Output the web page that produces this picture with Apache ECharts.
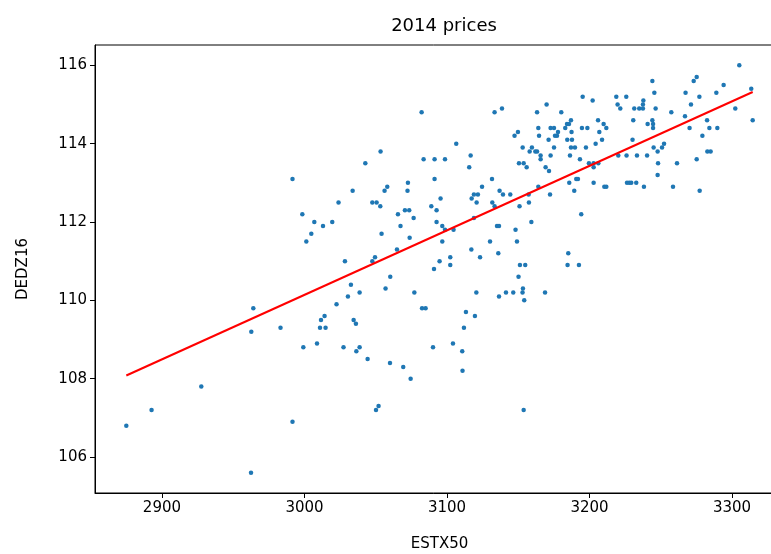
<!DOCTYPE html>
<html>
<head>
<meta charset="utf-8">
<script src="https://cdn.jsdelivr.net/npm/echarts@6/dist/echarts.min.js"></script>
<style>
  html, body { margin: 0; padding: 0; background: #fff; }
  #chart { width: 771px; height: 554px; }
</style>
</head>
<body>
<div id="chart"></div>
<script>
// Daily closes for 2014: ESTX50 index level vs DEDZ16 price
const estx50 = [
  2875.0, 2892.7, 2927.6, 2962.5, 2964.1, 2962.7, 2991.6, 3082.2, 3053.4, 3042.7,
  3083.6, 3091.3, 3091.3, 3033.8, 3056.2, 3058.1, 3072.6, 3072.3, 3098.6, 3106.5,
  3116.6, 3115.6, 3133.4, 3138.6, 3131.6, 3124.6, 3118.9, 3121.7, 3136.9, 3139.3,
  3144.4, 3147.4, 3149.8, 3153.1, 3150.5, 3153.8, 3155.9, 3158.0, 3159.6, 3162.0,
  3163.2, 3165.7, 3165.7, 3163.2, 3169.9, 3164.1, 3164.6, 3172.7, 3175.1, 3177.9,
  3177.2, 3175.8, 3171.3, 3175.1, 3172.7, 3169.2, 3171.6, 3164.1, 3172.3, 3180.2,
  3183.0, 3184.2, 3185.6, 3187.0, 3187.4, 3184.4, 3187.7, 3187.0, 3189.8, 3186.3,
  3193.3, 3194.7, 3198.5, 3195.2, 3202.2, 3197.5, 3204.3, 3206.0, 3206.9, 3208.8,
  3209.9, 3199.6, 3202.9, 3202.9, 3206.2, 3185.8, 3189.3, 3190.7, 3191.9, 3202.9,
  3210.4,
  3211.8, 3211.8, 3218.8, 3225.8, 3219.7, 3221.6, 3220.2, 3226.0, 3230.2, 3230.7,
  3231.4, 3233.3, 3234.9, 3237.5, 3237.5, 3237.8, 3244.1, 3245.5, 3246.4, 3240.8,
  3244.1, 3244.6, 3244.6, 3240.4, 3245.0, 3247.8, 3250.9, 3252.3, 3248.1, 3247.8,
  3226.3, 3227.9, 3229.3, 3232.8, 3238.2, 3258.6, 3277.3, 3257.4, 3261.4, 3267.0,
  3267.4, 3270.2, 3271.2, 3273.1, 3275.2, 3277.1, 3275.2, 3279.2, 3282.5, 3282.7,
  3285.0, 3284.1, 3289.0, 3289.7, 3294.1, 3302.3, 3305.1, 3313.5, 3314.5,
  3023.9, 2998.5, 3006.9, 3013.0, 3019.5, 3004.8, 3001.3, 3047.6, 3050.6, 3053.2,
  3065.6, 3070.5, 3073.5, 3076.6, 3067.4, 3054.1, 3073.8, 3089.0, 3092.7, 3092.7,
  3064.9, 3049.5, 3047.6, 3028.4, 3060.2, 3056.9, 3032.6, 3030.5, 3038.7, 3022.5,
  3077.1, 3082.5, 3085.0, 3090.9, 2983.2, 3011.6, 3014.1, 3010.9, 3014.8, 3034.5,
  3036.1, 3008.8,
  3095.5, 3096.7, 3098.6, 3104.6, 3096.7, 3117.3, 3120.8, 3118.9, 3131.8, 3133.4,
  3135.1, 3136.5, 3130.2, 3117.1, 3123.2, 3136.0, 3102.3, 3094.8, 3102.3, 3148.1,
  3149.1, 3150.9, 3157.3, 3157.5, 3159.2, 3151.2, 3154.9, 3150.2, 3153.3, 3153.0,
  3154.2, 3168.8, 3141.4, 3146.5, 3136.5, 3120.6, 3113.3, 3119.6, 3111.9, 3104.2,
  3194.2, 3185.1, 3184.6, 3192.6,
  2999.2, 3027.4, 3036.4, 3038.7, 3044.3, 3060.0, 3069.3, 3074.5, 3050.2, 3052.0,
  2991.6, 3090.2, 3110.7, 3110.9, 3153.8
];

const dedz16 = [
  106.8, 107.2, 107.8, 105.6, 109.8, 109.2, 113.1, 114.8, 113.8, 113.5,
  113.6, 113.6, 113.1, 112.8, 112.8, 112.9, 113.0, 112.8, 113.6, 114.0,
  113.7, 113.4, 114.8, 114.9, 113.1, 112.9, 112.7, 112.7, 112.8, 112.7,
  112.7, 114.2, 114.3, 113.9, 113.5, 113.5, 113.4, 113.8, 113.9, 113.8,
  113.8, 113.7, 113.6, 114.8, 115.0, 114.4, 114.2, 114.4, 114.4, 114.3,
  114.2, 114.2, 114.1, 113.9, 113.7, 113.4, 113.3, 112.9, 112.7, 114.8,
  114.4, 114.5, 114.5, 114.6, 114.3, 114.1, 114.1, 113.9, 113.9, 113.7,
  113.6, 114.4, 114.4, 115.2, 115.1, 113.9, 114.0, 114.6, 114.3, 114.1,
  114.5, 113.5, 113.5, 113.4, 113.5, 113.0, 112.8, 113.1, 113.1, 113.0,
  112.9,
  114.4, 112.9, 115.2, 115.2, 115.0, 114.9, 113.7, 113.7, 114.1, 114.6,
  114.9, 113.7, 114.9, 114.9, 115.0, 115.1, 115.6, 115.3, 114.9, 114.5,
  114.6, 114.5, 114.4, 113.7, 113.9, 113.8, 113.9, 114.0, 113.5, 113.2,
  113.0, 113.0, 113.0, 113.0, 112.9, 112.9, 112.8, 114.8, 113.5, 114.7,
  115.3, 114.4, 115.0, 115.6, 115.7, 115.2, 113.6, 114.2, 114.6, 113.8,
  113.8, 114.4, 115.3, 114.4, 115.5, 114.9, 116.0, 115.4, 114.6,
  112.5, 112.2, 112.0, 111.9, 112.0, 111.7, 111.5, 112.5, 112.5, 112.4,
  112.2, 112.3, 112.3, 112.1, 111.9, 111.7, 111.6, 112.4, 112.3, 112.0,
  111.3, 111.1, 111.0, 111.0, 110.6, 110.3, 110.4, 110.1, 110.2, 109.9,
  110.2, 109.8, 109.8, 110.8, 109.3, 109.5, 109.6, 109.3, 109.3, 109.5,
  109.4, 108.9,
  112.6, 111.9, 111.8, 111.8, 111.5, 112.6, 112.5, 112.1, 112.5, 112.4,
  111.9, 111.9, 111.5, 111.3, 111.1, 111.2, 111.1, 111.0, 110.9, 111.8,
  111.5, 112.4, 112.7, 112.5, 112.0, 110.9, 110.9, 110.6, 110.3, 110.2,
  110.0, 110.2, 110.2, 110.2, 110.1, 110.2, 109.7, 109.6, 109.3, 108.9,
  112.2, 111.2, 110.9, 110.9,
  108.8, 108.8, 108.7, 108.8, 108.5, 108.4, 108.3, 108.0, 107.2, 107.3,
  106.9, 108.8, 108.7, 108.2, 107.2
];

// Least-squares fit line, end points over the ESTX50 range
const fitX = [2875.0, 3314.5];
const fitY = [108.08, 115.32];

const xTicks = [2900, 3000, 3100, 3200, 3300];
const yTicks = [106, 108, 110, 112, 114, 116];

// 5% padding around the data range on both axes
const pad = (lo, hi) => [lo - 0.05 * (hi - lo), hi + 0.05 * (hi - lo)];
const [xMin, xMax] = pad(Math.min(...estx50), Math.max(...estx50));
const [yMin, yMax] = pad(Math.min(...dedz16), Math.max(...dedz16));

const points = estx50.map((x, i) => [x, dedz16[i]]);
const fitLine = fitX.map((x, i) => [x, fitY[i]]);

const font = 'DejaVu Sans';
const plain = v => String(v);
const chart = echarts.init(document.getElementById('chart'), null, { renderer: 'canvas' });

chart.setOption({
  animation: false,
  backgroundColor: '#ffffff',
  title: {
    text: '2014 prices',
    left: 439,
    top: 12,
    textAlign: 'center',
    textStyle: { fontFamily: font, fontSize: 18, fontWeight: 'normal', color: '#000' }
  },
  grid: {
    left: 95, top: 45, width: 689, height: 448,
    outerBoundsMode: 'none',
    containLabel: false,
    show: true, borderColor: '#000', borderWidth: 1, backgroundColor: 'transparent'
  },
  xAxis: {
    type: 'value',
    min: xMin, max: xMax,
    name: 'ESTX50',
    nameLocation: 'middle',
    nameGap: 44,
    nameTextStyle: { fontFamily: font, fontSize: 15, color: '#000' },
    axisLine: { show: true, onZero: false, lineStyle: { color: '#000', width: 1 } },
    axisTick: { show: true, inside: false, length: 5, customValues: xTicks, lineStyle: { color: '#000', width: 1 } },
    axisLabel: { fontFamily: font, fontSize: 15, color: '#000', margin: 8, customValues: xTicks, formatter: plain },
    splitLine: { show: false }
  },
  yAxis: {
    type: 'value',
    min: yMin, max: yMax,
    name: 'DEDZ16',
    nameLocation: 'middle',
    nameGap: 64,
    nameTextStyle: { fontFamily: font, fontSize: 15, color: '#000' },
    axisLine: { show: true, onZero: false, lineStyle: { color: '#000', width: 1 } },
    axisTick: { show: true, inside: false, length: 5, customValues: yTicks, lineStyle: { color: '#000', width: 1 } },
    axisLabel: { fontFamily: font, fontSize: 15, color: '#000', margin: 8, customValues: yTicks, formatter: plain },
    splitLine: { show: false }
  },
  series: [
    {
      type: 'scatter',
      data: points,
      symbol: 'circle',
      symbolSize: 4.5,
      itemStyle: { color: '#1f77b4', opacity: 1 },
      z: 2
    },
    {
      type: 'line',
      data: fitLine,
      symbol: 'none',
      lineStyle: { color: '#ff0000', width: 2 },
      z: 3
    }
  ]
});
</script>
</body>
</html>
